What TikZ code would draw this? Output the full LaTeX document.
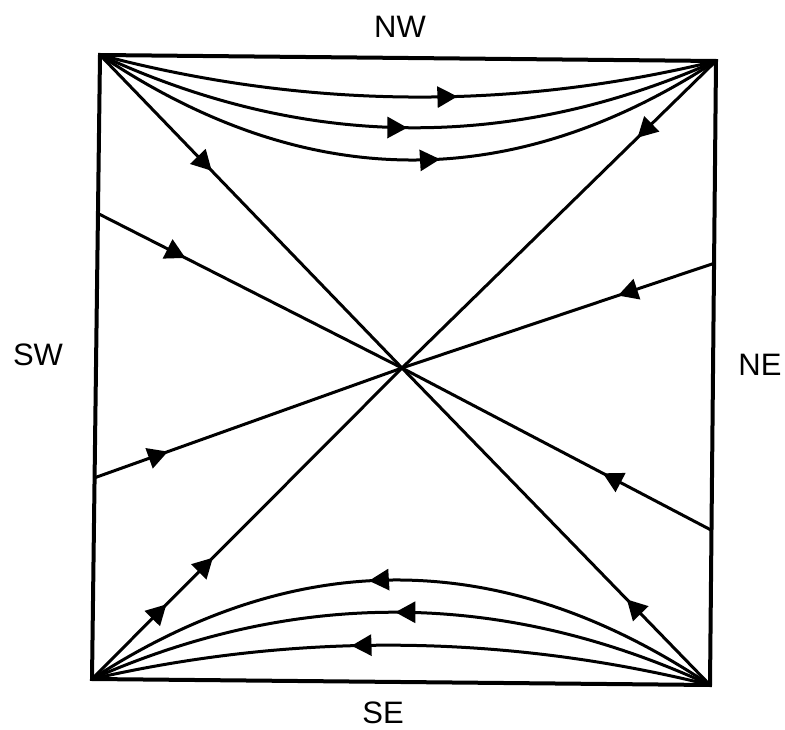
\documentclass[tikz,border=0pt]{standalone}
\usepackage{fontspec}
\setmainfont{Liberation Sans}
\usetikzlibrary{arrows.meta,decorations.markings}
\tikzset{
  boxline/.style={line width=4pt, line join=miter},
  flow/.style={line width=3pt},
  arr/.style={postaction={decorate, decoration={markings,
      mark=at position #1 with {\arrow{Triangle[length=20pt,width=21pt]}}}}},
  lbl/.style={font=\fontsize{31}{31}\selectfont, inner sep=0pt},
}
\begin{document}
\begin{tikzpicture}[x=1pt,y=-1pt]
\useasboundingbox (0,0) rectangle (785,730);
% corners and centre
\coordinate (TL) at (100,55);
\coordinate (TR) at (716,61);
\coordinate (BR) at (710,685);
\coordinate (BL) at (92,679);
\coordinate (O) at (402,368);
% side end points
\coordinate (L1) at (97,213);
\coordinate (L2) at (94,478);
\coordinate (R1) at (715,263);
\coordinate (R2) at (711,530);
% labels
\node[lbl] (nw) at (400,27) {NW};
\node[lbl] (sw) at (38,355) {SW};
\node[lbl] (ne) at (760,365) {NE};
\node[lbl] (se) at (383,713) {SE};
% box
\draw[boxline] (TL) -- (TR) -- (BR) -- (BL) -- cycle;
% top curves
\draw[flow, arr=0.58] (TL) .. controls (305,109) and (511,111) .. (TR);
\draw[flow, arr=0.50] (TL) .. controls (305,150) and (511,152) .. (TR);
\draw[flow, arr=0.55] (TL) .. controls (305,193) and (511,195) .. (TR);
% bottom curves
\draw[flow, arr=0.55] (BR) .. controls (504,547) and (298,545) .. (BL);
\draw[flow, arr=0.51] (BR) .. controls (504,590) and (298,588) .. (BL);
\draw[flow, arr=0.58] (BR) .. controls (504,634) and (298,632) .. (BL);
% straight lines into the centre
\draw[flow, arr=0.37] (TL) -- (O);
\draw[flow, arr=0.25] (TR) -- (O);
\draw[flow, arr=0.29] (L1) -- (O);
\draw[flow, arr=0.31] (R1) -- (O);
\draw[flow, arr=0.24] (L2) -- (O);
\draw[flow, arr=0.35] (R2) -- (O);
\draw[flow, arr=0.24, arr=0.39] (BL) -- (O);
\draw[flow, arr=0.27] (BR) -- (O);
\end{tikzpicture}
\end{document}
